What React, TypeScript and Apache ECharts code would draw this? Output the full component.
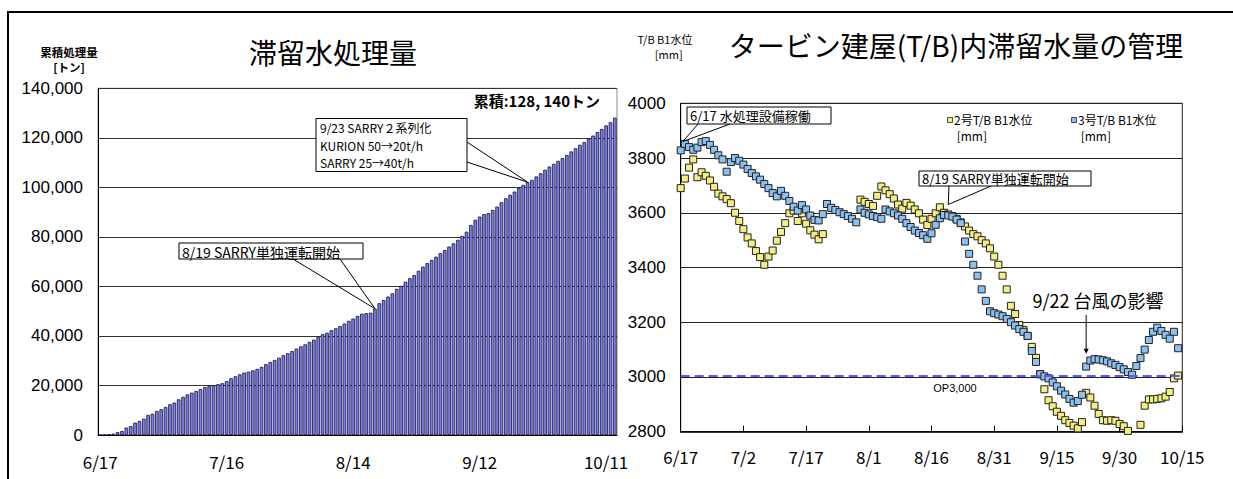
import React, { useEffect, useRef } from "react";
import * as echarts from "echarts";

// ---------- data ----------
const startDate = [2011, 6, 17];
const cumulativeTons = [
  0, 100, 250, 540, 1200, 1600, 3000, 3600, 5000, 5700,
  6600, 8100, 8600, 9700, 10400, 11300, 12400, 13100, 14400, 15400,
  16400, 17100, 17800, 18500, 19400, 19800, 20100, 20500, 20900, 21800,
  22900, 23700, 24500, 25200, 25600, 26100, 26700, 27500, 28600, 29500,
  30300, 31200, 32200, 33000, 33900, 34900, 35800, 36600, 37600, 38500,
  39600, 40700, 41300, 42300, 43100, 44000, 45000, 46100, 47000, 48100,
  49000, 49200, 49400, 51000, 53200, 54500, 55900, 57200, 59000, 60200,
  61900, 63300, 64600, 66300, 68000, 69400, 70700, 72000, 73400, 74700,
  76100, 77400, 78800, 80400, 82100, 84800, 86900, 88200, 89200, 89600,
  90900, 92200, 94000, 95600, 97000, 98300, 99700, 101000, 102100, 103000,
  104400, 105700, 107100, 108400, 109500, 110700, 111800, 113100, 114500, 115800,
  117200, 118300, 119600, 120900, 122300, 123600, 125000, 126300, 128140,
];
const leftLabelEvery = 29;
const leftYTicks = [0, 20000, 40000, 60000, 80000, 100000, 120000, 140000];

const unit2Level: (number | null)[] = [
  3690, 3725, 3765, 3795, 3730, 3748, 3735, 3718, 3695, 3670,
  3660, 3650, 3635, 3600, 3570, 3540, 3510, 3488, 3460, 3438,
  3410, 3440, 3462, 3498, 3530, 3562, 3598, 3608, 3570, 3598,
  3560, 3536, 3520, 3503, 3522, null, null, null, null, null,
  null, null, null, 3648, 3640, 3632, 3625, 3662, 3696, 3682,
  3668, 3652, 3630, 3615, 3636, 3626, 3612, 3598, 3575, 3555,
  3578, 3598, 3620, 3600, 3594, 3588, 3578, 3565, 3550, 3535,
  3522, 3514, 3500, 3488, 3470, 3440, 3410, 3370, 3320, 3260,
  3230, 3190, 3172, 3150, 3110, 3070, 3010, 2955, 2915, 2893,
  2873, 2858, 2842, 2832, 2822, 2812, 2835, 2942, 2925, 2895,
  2865, 2842, 2840, 2842, 2840, 2828, 2820, 2803, null, null,
  2825, 2895, 2918, 2918, 2920, 2922, 2928, 2945, 2995, 3005,
];
const unit3Level: (number | null)[] = [
  3828, 3852, 3840, 3830, 3838, 3858, 3862, 3848, 3830, 3810,
  3795, 3750, 3785, 3800, 3790, 3776, 3760, 3745, 3733, 3721,
  3705, 3690, 3672, 3660, 3680, 3662, 3643, 3622, 3608, 3628,
  3612, 3590, 3574, 3572, 3595, 3632, 3618, 3610, 3602, 3595,
  3588, 3578, 3565, 3612, 3600, 3594, 3588, 3584, 3578, 3612,
  3605, 3598, 3590, 3578, 3562, 3548, 3535, 3526, 3518, 3505,
  3525, 3556, 3580, 3592, 3590, 3586, 3575, 3562, 3495, 3450,
  3410, 3370, 3320, 3278, 3240, 3233, 3228, 3222, 3212, 3200,
  3188, 3175, 3165, 3150, 3095, 3055, 3010, 3002, 2995, 2980,
  2966, 2950, 2936, 2920, 2906, 2912, 2935, 3038, 3060, 3065,
  3064, 3061, 3057, 3050, 3044, 3036, 3028, 3018, 3008, 3040,
  3069, 3100, 3135, 3165, 3180, 3168, 3154, 3140, 3165, 3105,
];
const rightXTicks = ["6/17", "7/2", "7/17", "8/1", "8/16", "8/31", "9/15", "9/30", "10/15"];
const opLevel = 3006;

// ---------- helpers ----------
const JP = "'Noto Sans CJK JP', sans-serif";
const AR = "'Liberation Sans', Arial, sans-serif";
const YELLOW = "#f4ef80";
const BLUE = "#8cc0f0";

function dayLabels(n: number): string[] {
  const out: string[] = [];
  for (let i = 0; i < n; i++) {
    const d = new Date(Date.UTC(startDate[0], startDate[1] - 1, startDate[2] + i));
    out.push(`${d.getUTCMonth() + 1}/${d.getUTCDate()}`);
  }
  return out;
}
const toPoints = (arr: (number | null)[]) =>
  arr.map((v, i) => (v == null ? null : [i, v])).filter((p) => p) as number[][];

export default function App() {
  const ref = useRef<HTMLDivElement>(null);
  useEffect(() => {
    if (!ref.current) return;
    const chart = echarts.init(ref.current, undefined, { renderer: "svg" });
    const categories = dayLabels(cumulativeTons.length);
    const option: any = {
      animation: false,
      backgroundColor: "#fff",
      grid: [
        { left: 98, top: 88.3, width: 519, height: 346.7, show: true, borderColor: "#888", borderWidth: 1 },
        { left: 680.7, top: 103.3, width: 501.6, height: 328.4, show: true, borderColor: "#222", borderWidth: 1 },
      ],
      xAxis: [
        {
          type: "category",
          gridIndex: 0,
          data: categories,
          boundaryGap: true,
          axisLine: { lineStyle: { color: "#000", width: 1 } },
          axisTick: { show: false },
          axisLabel: {
            interval: (i: number) => i % leftLabelEvery === 0,
            color: "#000",
            fontFamily: JP,
            fontSize: 17,
            margin: 18,
          },
        },
        {
          type: "value",
          gridIndex: 1,
          min: 0,
          max: 120,
          interval: 15,
          axisLine: { show: true, onZero: false, lineStyle: { color: "#000", width: 1.5 } },
          axisTick: { show: true, inside: true, length: 6, lineStyle: { color: "#000" } },
          splitLine: { show: false },
          axisLabel: {
            formatter: (v: number) => rightXTicks[Math.round(v / 15)],
            color: "#000",
            fontFamily: JP,
            fontSize: 17,
            margin: 16,
          },
        },
      ],
      yAxis: [
        {
          type: "value",
          gridIndex: 0,
          min: leftYTicks[0],
          max: leftYTicks[leftYTicks.length - 1],
          interval: 20000,
          axisLine: { show: true, lineStyle: { color: "#000", width: 1 } },
          axisTick: { show: false },
          splitLine: { lineStyle: { color: "#333", width: 1 } },
          axisLabel: {
            formatter: (v: number) => v.toLocaleString("en-US"),
            color: "#000",
            fontFamily: AR,
            fontSize: 17,
            margin: 15,
          },
        },
        {
          type: "value",
          gridIndex: 1,
          min: 2800,
          max: 4000,
          interval: 200,
          axisLine: { show: true, lineStyle: { color: "#000", width: 1 } },
          axisTick: { show: false },
          splitLine: { lineStyle: { color: "#222", width: 1 } },
          axisLabel: {
            formatter: (v: number) => String(v),
            color: "#000",
            fontFamily: AR,
            fontSize: 17,
            margin: 15,
          },
        },
      ],
      series: [
        {
          type: "bar",
          xAxisIndex: 0,
          yAxisIndex: 0,
          data: cumulativeTons,
          barCategoryGap: "18%",
          itemStyle: { color: "#7f7fe4", borderColor: "#111144", borderWidth: 0.8 },
          silent: true,
        },
        {
          type: "scatter",
          name: "2号T/B B1水位[mm]",
          xAxisIndex: 1,
          yAxisIndex: 1,
          data: toPoints(unit2Level),
          symbol: "rect",
          symbolSize: 7,
          itemStyle: { color: YELLOW, borderColor: "#222", borderWidth: 1, opacity: 1 },
          silent: true,
        },
        {
          type: "scatter",
          name: "3号T/B B1水位[mm]",
          xAxisIndex: 1,
          yAxisIndex: 1,
          data: toPoints(unit3Level),
          symbol: "rect",
          symbolSize: 7,
          itemStyle: { color: BLUE, borderColor: "#222", borderWidth: 1, opacity: 1 },
          silent: true,
          markLine: {
            silent: true,
            symbol: "none",
            label: { show: false },
            lineStyle: { color: "#5a5aff", type: [9, 5], width: 2 },
            data: [{ yAxis: opLevel }],
          },
        },
      ],
    };
    chart.setOption(option);

    const px = (si: number, d: number[]) => chart.convertToPixel({ seriesIndex: si }, d) as number[];
    const tipL1 = px(0, [63, cumulativeTons[63]]);
    const tipL2 = px(0, [98, cumulativeTons[98]]);
    const tipR1 = px(2, [0.5, 3860]);
    const tipR2 = px(1, [64, 3630]);
    const arrowTip = px(2, [97, 3085]);

    const txt = (x: number, y: number, text: string, size: number, extra: any = {}) => ({
      type: "text",
      x,
      y,
      z: 100,
      style: {
        text,
        fill: "#000",
        fontFamily: JP,
        fontSize: size,
        align: "left",
        verticalAlign: "middle",
        ...extra,
      },
    });
    const box = (x: number, y: number, w: number, h: number) => ({
      type: "rect",
      z: 99,
      shape: { x, y, width: w, height: h },
      style: { fill: "#fff", stroke: "#000", lineWidth: 1 },
    });
    const ln = (x1: number, y1: number, x2: number, y2: number, w = 1) => ({
      type: "line",
      z: 99,
      shape: { x1, y1, x2, y2 },
      style: { stroke: "#000", lineWidth: w },
    });
    const swatch = (x: number, y: number, fill: string) => ({
      type: "rect",
      z: 100,
      shape: { x, y, width: 5, height: 5 },
      style: { fill, stroke: "#222", lineWidth: 0.8 },
    });

    const graphic: any[] = [
      // outer frame
      ln(7, 12, 1233, 12, 2),
      ln(8, 12, 8, 479, 2),
      // left chart texts
      txt(69, 59, "累積処理量\n[トン]", 11.5, { align: "center", fontWeight: "bold", lineHeight: 15 }),
      txt(333, 52, "滞留水処理量", 28, { align: "center" }),
      txt(600, 100, "累積:128, 140トン", 15, { align: "right", fontWeight: "bold" }),
      // 9/23 callout
      ln(467, 142, tipL2[0], tipL2[1]),
      ln(467, 162, tipL2[0], tipL2[1]),
      box(316, 118.5, 151, 53),
      txt(320, 145, "9/23 SARRY２系列化\nKURION 50→20t/h\nSARRY 25→40t/h", 12, { lineHeight: 17.2 }),
      // 8/19 left callout
      ln(293, 259, tipL1[0], tipL1[1]),
      ln(340, 259, tipL1[0], tipL1[1]),
      box(179, 243, 184, 16),
      txt(182, 251.5, "8/19 SARRY単独運転開始", 14),
      // right chart texts
      txt(665, 46.5, "T/B B1水位\n   [mm]", 11, { align: "center", lineHeight: 14.5 }),
      txt(956, 45, "タービン建屋(T/B)内滞留水量の管理", 28, { align: "center" }),
      // legend
      swatch(947.5, 117.5, YELLOW),
      txt(954, 127.5, "2号T/B B1水位\n [mm]", 12, { lineHeight: 15.5 }),
      swatch(1071.5, 117.5, BLUE),
      txt(1078, 127.5, "3号T/B B1水位\n [mm]", 12, { lineHeight: 15.5 }),
      // 6/17 callout
      ln(698, 124, tipR1[0], tipR1[1]),
      ln(730, 124, tipR1[0], tipR1[1]),
      box(687, 107, 144, 17),
      txt(690, 115.5, "6/17 水処理設備稼働", 13),
      // 8/19 right callout
      ln(949, 186, tipR2[0], tipR2[1]),
      ln(991, 186, tipR2[0], tipR2[1]),
      box(919, 171, 172, 15),
      txt(922, 178.5, "8/19 SARRY単独運転開始", 13),
      // typhoon note
      txt(1098, 300, "9/22 台風の影響", 18, { align: "center" }),
      ln(arrowTip[0], 315, arrowTip[0], arrowTip[1] - 4),
      {
        type: "polygon",
        z: 100,
        shape: {
          points: [
            [arrowTip[0] - 2.5, arrowTip[1] - 5],
            [arrowTip[0] + 2.5, arrowTip[1] - 5],
            [arrowTip[0], arrowTip[1]],
          ],
        },
        style: { fill: "#000" },
      },
      txt(955, 388, "OP3,000", 11, { align: "center", fontFamily: AR }),
    ];
    chart.setOption({ graphic });

    return () => chart.dispose();
  }, []);
  return (
    <div
      ref={ref}
      style={{ position: "absolute", left: 0, top: 0, width: 1233, height: 479, background: "#fff" }}
    />
  );
}
